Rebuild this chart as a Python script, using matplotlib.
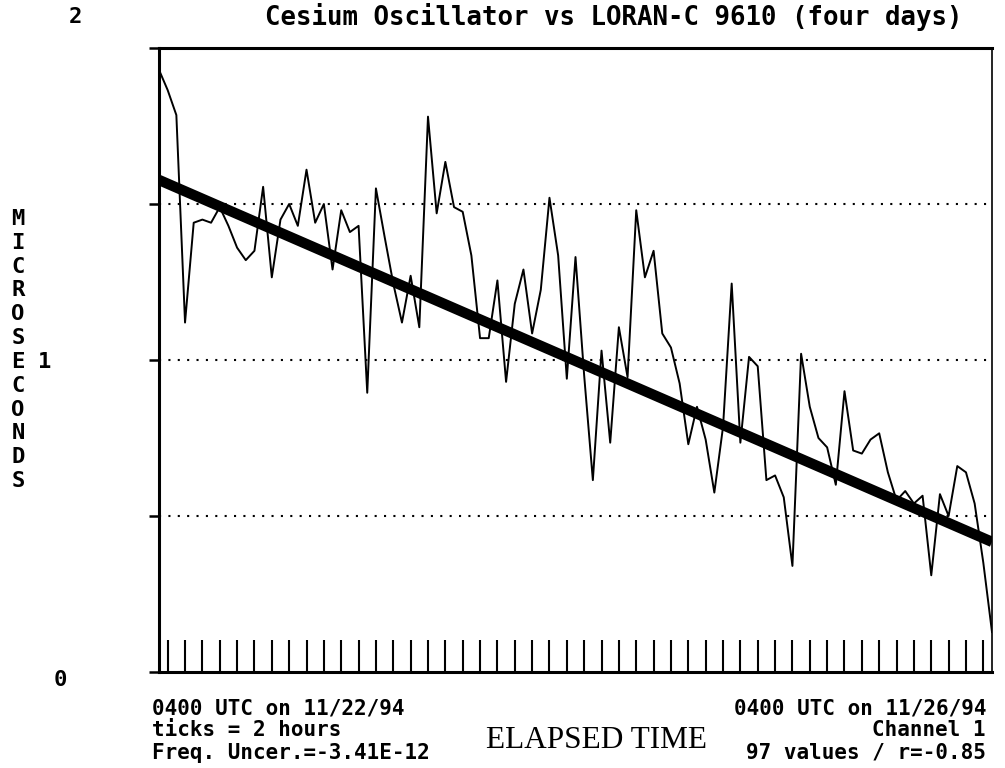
# libraries
import numpy as np
import matplotlib
matplotlib.use('Agg')
import matplotlib.pyplot as plt


# data: hourly readings, 0400 UTC 11/22/94 to 0400 UTC 11/26/94
hours = np.arange(97)
offset_us = [
    1.93, 1.865, 1.785, 1.12, 1.44, 1.45, 1.44, 1.49, 1.43, 1.36,
    1.32, 1.35, 1.555, 1.265, 1.45, 1.50, 1.43, 1.61, 1.44, 1.50,
    1.29, 1.48, 1.41, 1.43, 0.895, 1.55, 1.395, 1.245, 1.12, 1.27,
    1.105, 1.78, 1.47, 1.635, 1.49, 1.475, 1.335, 1.07, 1.07, 1.255,
    0.93, 1.18, 1.29, 1.085, 1.225, 1.52, 1.335, 0.94, 1.33, 0.95,
    0.615, 1.03, 0.735, 1.105, 0.945, 1.48, 1.265, 1.35, 1.085, 1.04,
    0.925, 0.73, 0.85, 0.745, 0.575, 0.785, 1.245, 0.735, 1.01, 0.98,
    0.615, 0.63, 0.56, 0.34, 1.02, 0.85, 0.75, 0.72, 0.60, 0.90,
    0.71, 0.70, 0.745, 0.765, 0.64, 0.55, 0.58, 0.54, 0.565, 0.31,
    0.57, 0.50, 0.66, 0.64, 0.54, 0.35, 0.128,
]
# regression line as drawn on the chart (value at first / last hour)
fit_ends = [1.577, 0.417]
grid_levels = [0.5, 1.0, 1.5]
tick_hours = np.arange(1, 96, 2)

title = 'Cesium Oscillator vs LORAN-C 9610 (four days)'
left_notes = ['0400 UTC on 11/22/94', 'ticks = 2 hours',
              'Freq. Uncer.=-3.41E-12']
right_notes = ['0400 UTC on 11/26/94', 'Channel 1', '97 values / r=-0.85']

W, H = 1005, 768


def fx(px):
    return px / W


def fy(py):
    return 1 - py / H


fig = plt.figure(figsize=(W / 100, H / 100), dpi=100)
ax = fig.add_axes([fx(159), fy(672), 833 / W, 624 / H])

mono = dict(family='DejaVu Sans Mono', weight='bold', color='black')

# grid
for g in grid_levels:
    ax.axhline(g, color='black', lw=1.5, ls=(0, (1, 3.5)), zorder=1)

# data and regression line
ax.plot(hours, offset_us, color='black', lw=1.4, zorder=2)
ax.plot(hours[[0, -1]], fit_ends, color='black', lw=7.5,
        solid_capstyle='butt', zorder=3)

ax.set_xlim(0, 96)
ax.set_ylim(0, 2)

ax.set_xticks(tick_hours)
ax.set_xticklabels([])
ax.tick_params(axis='x', direction='in', length=23, width=1.5)
ax.set_yticks([0, 0.5, 1, 1.5, 2])
ax.set_yticklabels([])
ax.tick_params(axis='y', direction='out', length=7, width=1.8)

for side, w in [('left', 2.2), ('bottom', 2.2), ('top', 2.2), ('right', 1.2)]:
    ax.spines[side].set_linewidth(w)

# texts
fig.text(fx(614), fy(17), title, ha='center', va='center', fontsize=18.5,
         **mono)
fig.text(fx(75), fy(17), '2', ha='center', va='center', fontsize=16, **mono)
fig.text(fx(45), fy(362), '1', ha='center', va='center', fontsize=16, **mono)
fig.text(fx(60), fy(680), '0', ha='center', va='center', fontsize=16, **mono)

fig.text(fx(18), fy(350), '\n'.join('MICROSECONDS'), ha='center',
         va='center', fontsize=16, linespacing=1.24, **mono)

for i, (ln, rn) in enumerate(zip(left_notes, right_notes)):
    y = fy(708 + 22.5 * i)
    fig.text(fx(152), y, ln, ha='left', va='center', fontsize=15, **mono)
    fig.text(fx(986), y, rn, ha='right', va='center', fontsize=15, **mono)

fig.text(fx(596), fy(740), 'ELAPSED TIME', ha='center', va='center',
         fontsize=22.5, family='Liberation Serif', color='black')

fig.savefig('out.png', dpi=100)
